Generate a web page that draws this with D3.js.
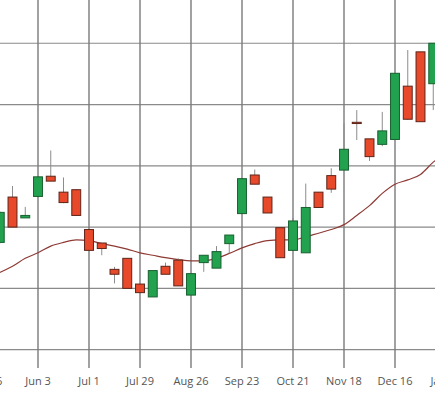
<!DOCTYPE html>
<html>
<head>
<meta charset="utf-8">
<script src="https://cdn.jsdelivr.net/npm/d3@7"></script>
<style>
  html, body { margin: 0; padding: 0; background: #fff; overflow: hidden; }
  svg { display: block; }
  .tick-label { font-family: "Open Sans", sans-serif; font-size: 11px; fill: #555; }
</style>
</head>
<body>
<div id="chart"></div>
<script>
// weekly candles (Monday of each week)
var weeks = ["2019-05-13","2019-05-20","2019-05-27","2019-06-03","2019-06-10","2019-06-17","2019-06-24",
  "2019-07-01","2019-07-08","2019-07-15","2019-07-22","2019-07-29","2019-08-05","2019-08-12","2019-08-19",
  "2019-08-26","2019-09-02","2019-09-09","2019-09-16","2019-09-23","2019-09-30","2019-10-07","2019-10-14",
  "2019-10-21","2019-10-28","2019-11-04","2019-11-11","2019-11-18","2019-11-25","2019-12-02","2019-12-09",
  "2019-12-16","2019-12-23","2019-12-30","2020-01-06"];
var opens  = [107.5,114.9,111.5,115.0,118.3,115.7,116.1,109.6,107.4,103.1,104.9,100.7, 98.6,103.6,104.6,
   98.9,104.2,103.3,107.3,112.2,118.5,114.9,109.9,106.2,105.8,115.7,118.4,119.3,127.1,124.4,123.5,124.3,133.0,138.6,133.4];
var highs  = [112.6,116.7,113.3,118.3,122.5,118.1,116.2,109.6,107.4,103.5,104.9,100.7,102.9,104.2,104.9,
  102.4,105.4,106.9,108.7,117.9,119.4,114.9,109.9,111.5,117.1,115.7,119.6,126.9,129.1,124.4,128.8,135.1,138.9,138.6,140.0];
var lows   = [107.3,110.0,111.5,114.8,117.5,113.9,111.8,106.2,105.4,100.8, 99.9, 99.3, 98.6,102.3,100.4,
   98.9,102.7,103.3,105.7,112.2,117.0,112.3,105.0,106.2,105.8,113.2,115.6,119.3,124.2,120.8,123.2,124.3,127.5,127.2,129.1];
var closes = [112.4,110.0,111.9,118.2,117.5,114.0,111.9,106.2,106.5,102.3,100.0, 99.3,102.9,102.3,100.4,
  102.4,105.4,106.0,108.7,117.9,117.0,112.3,105.0,111.0,113.2,113.2,116.2,122.7,126.9,121.5,125.7,135.1,127.6,127.2,140.0];

// moving average line
var maWeeks = ["2019-05-06"].concat(weeks, ["2020-01-13"]);
var maValues = [101.8,102.6,103.6,104.9,105.8,106.9,107.5,107.9,107.8,107.3,106.9,106.4,105.8,105.4,105.0,
  104.7,104.5,104.5,104.9,105.7,106.6,107.3,107.8,107.9,107.9,108.4,109.0,109.6,110.4,111.9,113.5,115.5,
  117.0,117.7,118.6,120.6,122.2];

// x axis ticks every 4 weeks
var tickDates = ["2019-05-06","2019-06-03","2019-07-01","2019-07-29","2019-08-26","2019-09-23",
  "2019-10-21","2019-11-18","2019-12-16","2020-01-13"];
var yTicks = [90, 100, 110, 120, 130, 140, 150];

var parse = d3.timeParse("%Y-%m-%d");
var svgWidth = 435, svgHeight = 394;
// the visible picture is a crop of a wider chart
var margin = { top: -18, bottom: 26, left: -13, right: -11 };
var width = svgWidth - margin.left - margin.right;
var height = svgHeight - margin.top - margin.bottom;

var svg = d3.select("#chart").append("svg")
  .attr("width", svgWidth).attr("height", svgHeight);
var g = svg.append("g").attr("transform", `translate(${margin.left},${margin.top})`);

var x = d3.scaleTime().domain([parse(tickDates[0]), parse(tickDates[tickDates.length - 1])]).range([0, width]);
var y = d3.scaleLinear().domain([87, 150]).range([height, 0]);

// gridlines
g.append("g").selectAll("line").data(yTicks).enter().append("line")
  .attr("x1", -50).attr("x2", width + 50)
  .attr("y1", d => y(d)).attr("y2", d => y(d))
  .attr("stroke", "#8a8a8a").attr("stroke-width", 1.2);
g.append("g").selectAll("line").data(tickDates).enter().append("line")
  .attr("x1", d => x(parse(d))).attr("x2", d => x(parse(d)))
  .attr("y1", -50).attr("y2", height)
  .attr("stroke", "#7a7a7a").attr("stroke-width", 1.4);

// tick labels
var fmt = d3.timeFormat("%b %-d");
g.append("g").selectAll("text").data(tickDates).enter().append("text")
  .attr("class", "tick-label")
  .attr("x", d => x(parse(d))).attr("y", height + 17)
  .attr("text-anchor", "middle")
  .text(d => fmt(parse(d)));

// moving average
var line = d3.line().curve(d3.curveMonotoneX)
  .x((d, i) => x(parse(maWeeks[i]))).y(d => y(d));
g.append("path").datum(maValues)
  .attr("d", line).attr("fill", "none")
  .attr("stroke", "#8e3a35").attr("stroke-width", 1.2);

// candles
var data = weeks.map((w, i) => ({ date: parse(w), o: opens[i], h: highs[i], l: lows[i], c: closes[i] }));
var weekPx = x(parse(weeks[1])) - x(parse(weeks[0]));
var bw = weekPx * 0.7;

var candles = g.append("g").selectAll("g").data(data).enter().append("g");
candles.append("line")
  .attr("x1", d => x(d.date)).attr("x2", d => x(d.date))
  .attr("y1", d => y(d.h)).attr("y2", d => y(d.l))
  .attr("stroke", "#8c8c8c").attr("stroke-width", 1);
candles.append("rect")
  .attr("x", d => x(d.date) - bw / 2)
  .attr("width", bw)
  .attr("y", d => y(Math.max(d.o, d.c)))
  .attr("height", d => Math.max(1, Math.abs(y(d.o) - y(d.c))))
  .attr("fill", d => d.c >= d.o ? "#22a24f" : "#e8492b")
  .attr("stroke", d => d.c >= d.o ? "#17602f" : "#5e2418")
  .attr("stroke-width", 1);
</script>
</body>
</html>
